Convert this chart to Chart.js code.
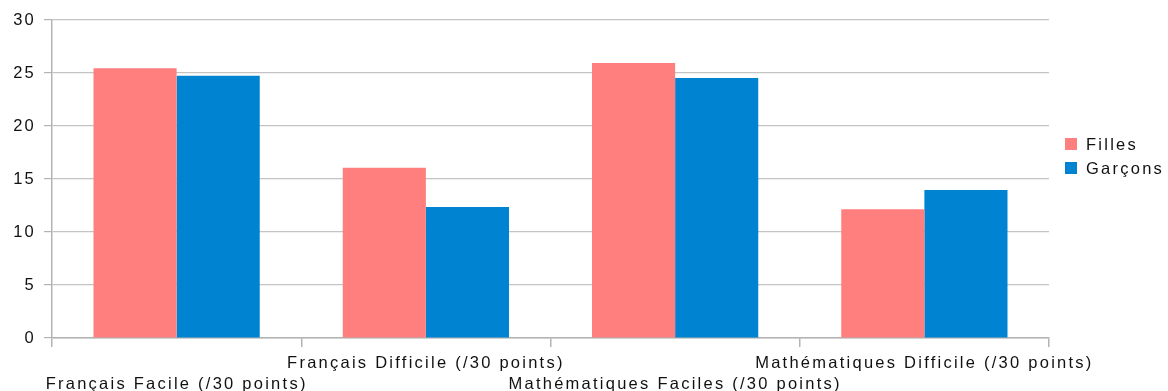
<!DOCTYPE html>
<html lang="fr">
<head>
<meta charset="utf-8">
<title>Résultats Filles / Garçons</title>
<script src="https://cdn.jsdelivr.net/npm/chart.js@4/dist/chart.umd.min.js"></script>
<style>
  html, body { margin: 0; padding: 0; background: #ffffff; }
  #wrap { position: relative; width: 1168px; height: 391px; }
</style>
</head>
<body>
<div id="wrap"><canvas id="c" width="1168" height="391"></canvas></div>
<script>
// Categories (tests) and the average score of each group, out of 30
const categories = [
  'Français Facile (/30 points)',
  'Français Difficile (/30 points)',
  'Mathématiques Faciles (/30 points)',
  'Mathématiques Difficile (/30 points)'
];
const seriesNames = ['Filles', 'Garçons'];
const filles = [25.45, 16.05, 25.95, 12.15];
const garcons = [24.75, 12.35, 24.53, 13.96];
const yTicks = [0, 5, 10, 15, 20, 25, 30];

const PINK = '#ff7f7f';
const BLUE = '#0083d0';
const GRID = '#c4c4c4';
const AXIS = '#b3b3b3';
const FONT = 'Liberation Sans, Arial, sans-serif';
const SPACING = '2.25px';

// Alternate category labels on two rows so the long names don't overlap
const staggered = categories.map((c, i) => (i % 2 === 0 ? ['', c] : [c]));

// Wide letter spacing for all chart text
const spacingPlugin = {
  id: 'spacing',
  beforeUpdate(chart) { chart.ctx.letterSpacing = SPACING; },
  beforeLayout(chart) { chart.ctx.letterSpacing = SPACING; },
  beforeDraw(chart) { chart.ctx.letterSpacing = SPACING; }
};

// Legend drawn to the right of the plot from the datasets
const sideLegend = {
  id: 'sideLegend',
  afterDraw(chart) {
    const ctx = chart.ctx;
    ctx.save();
    ctx.letterSpacing = SPACING;
    ctx.font = '16.5px ' + FONT;
    ctx.textBaseline = 'middle';
    ctx.textAlign = 'left';
    chart.data.datasets.forEach((ds, i) => {
      const y = 144 + i * 24;
      ctx.fillStyle = ds.backgroundColor;
      ctx.fillRect(1065, y - 6, 12, 12);
      ctx.fillStyle = '#111111';
      ctx.fillText(ds.label, 1086, y + 1);
    });
    ctx.restore();
  }
};

new Chart(document.getElementById('c'), {
  type: 'bar',
  data: {
    labels: staggered,
    datasets: [
      { label: seriesNames[0], data: filles, backgroundColor: PINK, borderWidth: 0 },
      { label: seriesNames[1], data: garcons, backgroundColor: BLUE, borderWidth: 0 }
    ]
  },
  options: {
    responsive: false,
    animation: false,
    devicePixelRatio: 1,
    layout: { padding: { top: 20, right: 119, left: 0, bottom: 0 } },
    categoryPercentage: 0.667,
    barPercentage: 1.0,
    plugins: {
      legend: { display: false },
      tooltip: { enabled: false }
    },
    scales: {
      x: {
        offset: true,
        grid: {
          offset: true,
          drawOnChartArea: true,
          color: (c) => (c.index === categories.length ? AXIS : 'rgba(0,0,0,0)'),
          tickColor: AXIS,
          tickLength: 9,
          lineWidth: 1.5
        },
        border: { display: true, color: AXIS, width: 1.5 },
        ticks: {
          autoSkip: false,
          maxRotation: 0,
          minRotation: 0,
          padding: 5,
          color: '#111111',
          font: { family: FONT, size: 16.5, lineHeight: 1.33 }
        },
        afterFit: (s) => { s.height = 53; }
      },
      y: {
        min: 0,
        max: 30,
        afterBuildTicks: (s) => { s.ticks = yTicks.map(v => ({ value: v })); },
        grid: {
          color: GRID,
          tickColor: AXIS,
          tickLength: 8,
          lineWidth: 1.2
        },
        border: { display: true, color: AXIS, width: 1.5 },
        ticks: {
          padding: 8,
          color: '#111111',
          font: { family: FONT, size: 16.5 }
        },
        afterFit: (s) => { s.width = 52; }
      }
    }
  },
  plugins: [spacingPlugin, sideLegend]
});
</script>
</body>
</html>
